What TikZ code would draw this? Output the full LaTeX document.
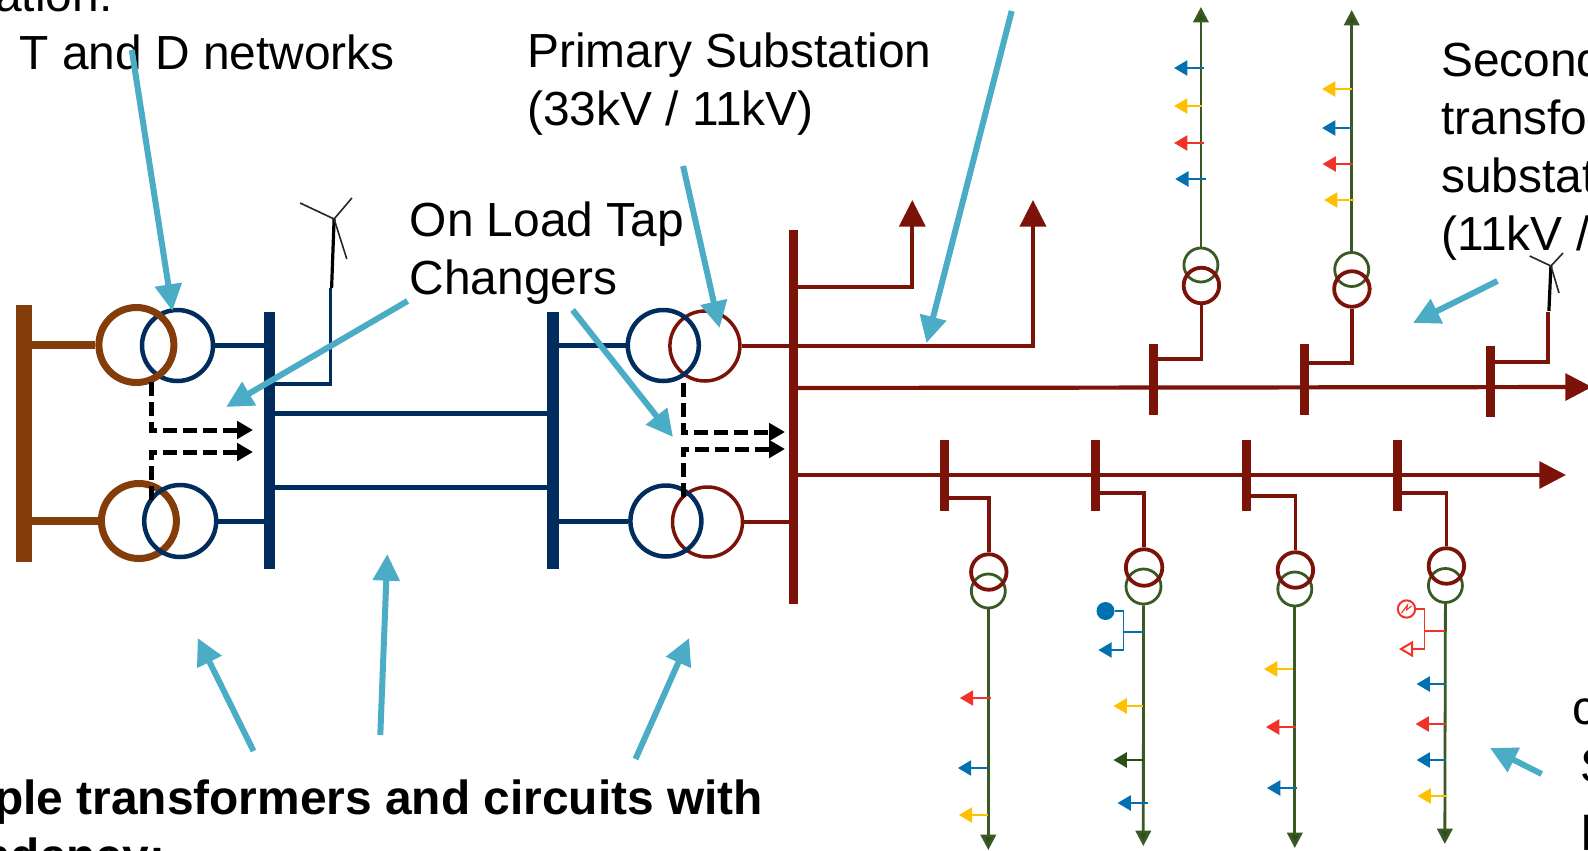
\documentclass[tikz,border=0pt]{standalone}
\usepackage{fontspec}
\setmainfont{Liberation Sans}
\usetikzlibrary{arrows.meta}
\definecolor{callout}{HTML}{4BACC6}
\definecolor{navybus}{HTML}{002D5E}
\definecolor{brownbus}{HTML}{843C0B}
\definecolor{redbus}{HTML}{7B1309}
\definecolor{greenlv}{HTML}{3A5A25}
\definecolor{greenhead}{HTML}{2F4F1A}
\definecolor{loadblue}{HTML}{0070B0}
\definecolor{loadyellow}{HTML}{FFC000}
\definecolor{loadred}{HTML}{F03228}
\tikzset{
  txt/.style={font=\fontsize{35.9}{43.5}\selectfont,inner sep=0pt,anchor=base west,align=left},
  txtb/.style={txt,font=\fontsize{35.9}{43.5}\selectfont\bfseries},
  coil/.style n args={3}{circle,inner sep=0pt,draw=#1,line width=#2*0.75pt,minimum size=#3*0.75pt},
  busbar/.style n args={3}{rectangle,inner sep=0pt,fill=#1,minimum width=#2*0.75pt,minimum height=#3*0.75pt},
  redbar/.style={busbar={redbus}{9}{71}},
  wire/.style n args={2}{draw=#1,line width=#2*0.75pt},
  callarrow/.style={draw=callout,line width=6*0.75pt,-{Triangle[length=20pt,width=19.5pt,fill=callout]}},
  tap/.style={draw=black,line width=5*0.75pt,dash pattern=on 10.5pt off 4.5pt,-{Triangle[length=12pt,width=13pt,fill=black]}},
  bigred/.style={wire={redbus}{3.8},-{Triangle[length=20pt,width=19.5pt,fill=redbus]}},
  feedred/.style={wire={redbus}{4.2},-{Triangle[length=20pt,width=20pt,fill=redbus]}},
  lvline/.style={wire={greenlv}{2.8},-{Triangle[length=11.5pt,width=11.5pt,fill=greenhead]}},
  loadarrow/.style={draw=#1,line width=1.6*0.75pt,-{Triangle[length=10pt,width=11.5pt,fill=#1]}},
  thinw/.style={draw=#1,line width=1.6*0.75pt},
}
% name, colour, tip x, y, start x
\newcommand\loadtap[5]{%
  \coordinate (#1s) at (#5,#4);\coordinate (#1t) at (#3,#4);
  \draw[loadarrow=#2] (#1s) -- (#1t);}
% name, base, hub, blade 1, blade 2, blade 3
\newcommand\turbinemark[6]{%
  \coordinate (#1base) at (#2);\coordinate (#1hub) at (#3);
  \coordinate (#1a) at (#4);\coordinate (#1b) at (#5);\coordinate (#1c) at (#6);
  \draw[black,line width=3.2*0.75pt] (#1base) -- (#1hub);
  \draw[black!85,line width=1.6*0.75pt] (#1hub) -- (#1a);
  \draw[black!85,line width=1.6*0.75pt] (#1hub) -- (#1b);
  \draw[black!85,line width=1.6*0.75pt] (#1hub) -- (#1c);}
\begin{document}
\begin{tikzpicture}[x=0.75pt,y=-0.75pt]
\useasboundingbox (0,0) rectangle (1588,850);
\clip (0,0) rectangle (1588,850);

% buses
\node[busbar={brownbus}{16}{257}] (bb) at (24.3,433.5) {};
\node[busbar={navybus}{11}{257}] (n1) at (269.2,440.5) {};
\node[busbar={navybus}{12}{257}] (n2) at (553.3,440.5) {};
\node[busbar={redbus}{9}{374}] (rm) at (793.1,417) {};

% grid transformers
\node[coil={navybus}{4.5}{71}] (t1n) at (177.5,345.5) {};
\node[coil={brownbus}{7}{75}] (t1b) at (136.4,345) {};
\node[coil={brownbus}{7}{75}] (t2b) at (138.9,521) {};
\node[coil={navybus}{4.5}{72}] (t2n) at (180.2,521) {};
% primary transformers
\node[coil={redbus}{3.5}{70}] (p1r) at (704.9,346) {};
\node[coil={navybus}{4.5}{71}] (p1n) at (663.3,345.5) {};
\node[coil={redbus}{3.5}{70}] (p2r) at (707.5,522) {};
\node[coil={navybus}{4.5}{71}] (p2n) at (665.9,521) {};

\draw[wire={brownbus}{7.5}] (bb |- t1b.west) -- (t1b.west);
\draw[wire={brownbus}{7.5}] (bb |- t2b.west) -- (t2b.west);
\draw[wire={navybus}{5}] (t1n.east) -- (n1 |- t1n.east);
\draw[wire={navybus}{5}] (t2n.east) -- (n1 |- t2n.east);
\draw[wire={navybus}{5}] (n1 |- 0,413) -- (n2 |- 0,413);
\draw[wire={navybus}{5}] (n1 |- 0,487) -- (n2 |- 0,487);
\draw[wire={navybus}{5}] (n2 |- p1n.west) -- (p1n.west);
\draw[wire={navybus}{5}] (n2 |- p2n.west) -- (p2n.west);
\draw[wire={redbus}{4}] (p1r.east) -- (rm |- p1r.east);
\draw[wire={redbus}{4}] (p2r.east) -- (rm |- p2r.east);

% wind turbine on 33 kV bus
\coordinate (w1foot) at (330.6,288);
\draw[wire={navybus}{3.5}] (n1 |- 0,384) -| (w1foot);
\turbinemark{wa}{331.6,288}{334.1,219}{300.1,203}{351.9,198}{346.8,259}

% tap changer signals
\coordinate (da0) at (151,382);\coordinate (da1) at (253,430);
\coordinate (db0) at (151,500);\coordinate (db1) at (253,452);
\coordinate (dc0) at (683,383);\coordinate (dc1) at (785,432);
\coordinate (dd0) at (683,497);\coordinate (dd1) at (785,449);
\draw[tap] (da0) |- (da1);
\draw[tap] (db0) |- (db1);
\draw[tap] (dc0) |- (dc1);
\draw[tap] (dd0) |- (dd1);

% HV branches from main red bus
\coordinate (up1) at (912.3,200);\coordinate (up2) at (1033,200);
\draw[bigred] (rm |- 0,287) -| (up1);
\draw[bigred] (rm |- 0,346) -| (up2);

% feeders
\coordinate (f1end) at (1592,387);\coordinate (f2end) at (1566,475);
\draw[feedred] (rm |- 0,388) -- (f1end);
\draw[feedred] (rm |- 0,475) -- (f2end);
\node[redbar] (u1) at (1153.4,379) {};
\node[redbar] (u2) at (1304.4,379) {};
\node[redbar] (u3) at (1490.8,381) {};
\node[redbar] (d1) at (944.2,475.5) {};
\node[redbar] (d2) at (1095.9,475.5) {};
\node[redbar] (d3) at (1246.4,475.5) {};
\node[redbar] (d4) at (1397.9,475.5) {};

% secondary transformers, upper
\node[coil={greenlv}{2.8}{34}] (s1g) at (1200.9,265) {};
\node[coil={redbus}{3.8}{35.5}] (s1r) at (1201.4,285.5) {};
\node[coil={greenlv}{2.8}{34}] (s2g) at (1351.7,269.5) {};
\node[coil={redbus}{3.8}{35.5}] (s2r) at (1351.9,289) {};
% secondary transformers, lower
\node[coil={greenlv}{2.8}{34}] (s3g) at (988.3,591) {};
\node[coil={redbus}{3.8}{35.5}] (s3r) at (988.8,572) {};
\node[coil={greenlv}{2.8}{35}] (s4g) at (1143.5,586.5) {};
\node[coil={redbus}{3.8}{36.5}] (s4r) at (1144.1,567.5) {};
\node[coil={greenlv}{2.8}{34}] (s5g) at (1294.8,589) {};
\node[coil={redbus}{3.8}{35.5}] (s5r) at (1295.4,570) {};
\node[coil={greenlv}{2.8}{34}] (s6g) at (1445.4,585.5) {};
\node[coil={redbus}{3.8}{35.5}] (s6r) at (1446.4,566) {};

\draw[wire={redbus}{3.6}] (u1 |- 0,359) -| (s1r.south);
\draw[wire={redbus}{3.6}] (u2 |- 0,363) -| (s2r.south);
\coordinate (w2foot) at (1547.9,312);
\draw[wire={redbus}{3.6}] (u3 |- 0,362) -| (w2foot);
\turbinemark{wb}{1548.9,311}{1550.9,266}{1529.7,256}{1563,253}{1559,293}
\draw[wire={redbus}{3.6}] (d1 |- 0,498) -| (s3r.north);
\draw[wire={redbus}{3.6}] (d2 |- 0,493) -| (s4r.north);
\draw[wire={redbus}{3.6}] (d3 |- 0,496) -| (s5r.north);
\draw[wire={redbus}{3.6}] (d4 |- 0,493) -| (s6r.north);

% LV feeders
\coordinate (lv1) at (1200.9,7);\coordinate (lv2) at (1351.7,10);
\coordinate (lv3) at (988.3,850);\coordinate (lv4) at (1143.3,846);
\coordinate (lv5) at (1294.8,848);\coordinate (lv6) at (1444.8,844);
\draw[lvline] (s1g.north) -- (lv1);
\draw[lvline] (s2g.north) -- (lv2);
\draw[lvline] (s3g.south) -- (lv3);
\draw[lvline] (s4g.south) -- (lv4);
\draw[lvline] (s5g.south) -- (lv5);
\draw[lvline] (s6g.south) -- (lv6);

% loads
\loadtap{a1}{loadblue}{1174.1}{68}{1204.4}
\loadtap{a2}{loadyellow}{1174.1}{106}{1202.4}
\loadtap{a3}{loadred}{1174.1}{143}{1204.4}
\loadtap{a4}{loadblue}{1175.2}{179}{1205.5}
\loadtap{b1}{loadyellow}{1322.1}{89}{1352}
\loadtap{b2}{loadblue}{1322.1}{128}{1352}
\loadtap{b3}{loadred}{1322.6}{164}{1353}
\loadtap{b4}{loadyellow}{1324.1}{200}{1354}
\loadtap{c1}{loadred}{959.9}{698}{991.4}
\loadtap{c2}{loadblue}{957.9}{768}{988.3}
\loadtap{c3}{loadyellow}{958.9}{815}{988.3}
\loadtap{e1}{loadyellow}{1113.5}{706}{1142.8}
\loadtap{e2}{greenhead}{1113.5}{760}{1144.8}
\loadtap{e3}{loadblue}{1117.6}{803}{1147.9}
\loadtap{g1}{loadyellow}{1264}{669}{1293.3}
\loadtap{g2}{loadred}{1266}{727}{1296.4}
\loadtap{g3}{loadblue}{1267}{788}{1297.4}
\loadtap{h1}{loadblue}{1416.6}{684}{1445.9}
\loadtap{h2}{loadred}{1415.6}{724}{1445.9}
\loadtap{h3}{loadblue}{1416.6}{760}{1445.9}
\loadtap{h4}{loadyellow}{1417.6}{796}{1446.9}

% storage on feeder 4
\node[circle,fill=loadblue,inner sep=0pt,minimum size=13.5pt] (dot) at (1105.5,611) {};
\coordinate (e0a) at (1142.8,632);\coordinate (e0b) at (1123.6,632);
\coordinate (e0c) at (1098.4,650);
\draw[thinw=loadblue] (e0a) -- (e0b);
\draw[thinw=loadblue] (dot.east) -| (e0b);
\draw[loadarrow=loadblue] (e0b) |- (e0c);

% generator and open load on feeder 6
\node[circle,draw=loadred,line width=1.5pt,inner sep=0pt,minimum size=13pt] (gen) at (1406.5,609) {};
\draw[loadred,line width=0.8pt] (1401.5,613) -- (1407.5,605) -- (1406.5,610) -- (1411.5,606);
\coordinate (h0a) at (1444.9,631);\coordinate (h0b) at (1424.6,631);
\coordinate (h0c) at (1412,649);
\draw[thinw=loadred] (h0a) -- (h0b);
\draw[thinw=loadred] (gen.east) -| (h0b);
\draw[thinw=loadred] (h0b) |- (h0c);
\node[coordinate] (h0d) at (1401,649) {};
\draw[loadred,line width=1.5pt,fill=white] (h0c) -- (1412,642.5) -- (h0d) -- (1412,655.5) -- cycle;

% labels
\node[txt] (lbl0) at (-5,11) {ation:};
\node[txt] (lbl1) at (19.3,69) {T and D networks};
\node[txt] (lbl2) at (527,125) {Primary Substation\\(33kV / 11kV)};
\node[txt] (lbl3) at (409.5,294) {On Load Tap\\Changers};
\node[txt] (lbl4) at (1441,250) {Second\\transfo\\substat\\(11kV /};
\node[txt] (lbl5) at (1572,840) {c\\\hspace*{6pt}S\\\hspace*{7pt}p};
\node[txtb] (lbl6) at (-6,872) {ple transformers and circuits with\\\hspace*{-9.5pt}ndancy:};

% callout arrows
\coordinate (k1a) at (131.8,50);\coordinate (k1b) at (172.4,311);
\coordinate (k2a) at (407.6,301);\coordinate (k2b) at (226.1,407);
\coordinate (k3a) at (572.6,310);\coordinate (k3b) at (673,437);
\coordinate (k4a) at (683.1,166);\coordinate (k4b) at (719.6,328);
\coordinate (k5a) at (1011.7,11);\coordinate (k5b) at (926.5,343);
\coordinate (k6a) at (1497.4,281);\coordinate (k6b) at (1413,323);
\coordinate (k7a) at (253.5,751);\coordinate (k7b) at (197.7,638);
\coordinate (k8a) at (380.3,735);\coordinate (k8b) at (387.3,554);
\coordinate (k9a) at (635.5,759);\coordinate (k9b) at (689.2,638);
\coordinate (k10a) at (1541.7,774);\coordinate (k10b) at (1490,748);
\foreach \k in {1,...,10}{\draw[callarrow] (k\k a) -- (k\k b);}
\end{tikzpicture}
\end{document}
